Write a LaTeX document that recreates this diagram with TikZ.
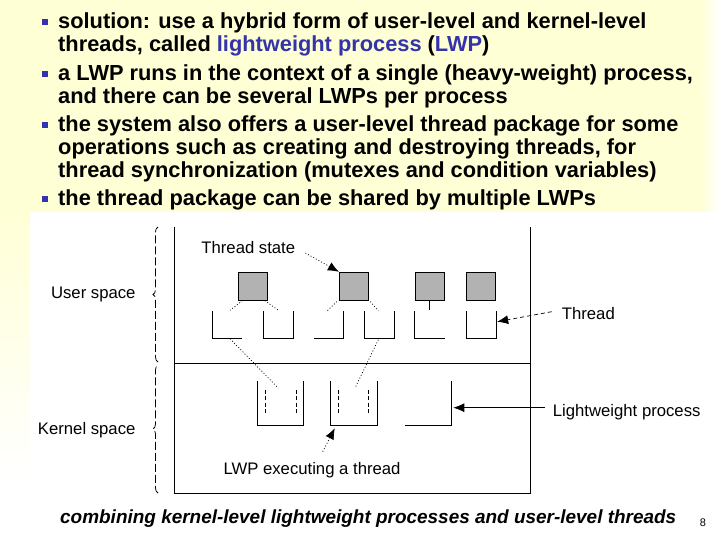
\documentclass[tikz,border=0pt]{standalone}
\usepackage{fontspec}
\setmainfont{Liberation Sans}
\usetikzlibrary{arrows.meta,calc,decorations.pathreplacing}
\definecolor{bgyel}{RGB}{255,255,214}
\definecolor{lwpblue}{RGB}{51,51,170}
\definecolor{thgray}{RGB}{178,178,178}
\begin{document}
\begin{tikzpicture}[x=1pt,y=-1pt,
  ln/.style={line width=0.8pt},
  tsq/.style={draw, line width=0.8pt, fill=thgray, minimum width=29pt, minimum height=28pt, inner sep=0pt},
  cupbox/.style={minimum width=29.5pt, minimum height=27pt, inner sep=0pt},
  lwpbox/.style={minimum width=46pt, minimum height=44pt, inner sep=0pt},
  dlab/.style={font=\fontsize{16.7}{18}\selectfont, inner sep=0pt},
  toptext/.style={font=\fontsize{21.8}{23}\selectfont\bfseries, anchor=base west, inner sep=0pt},
  bul/.style={fill=lwpblue, minimum width=5.5pt, minimum height=6.5pt, inner sep=0pt},
  dots/.style={line width=0.7pt, dash pattern=on 1pt off 2pt},
  innerdash/.style={line width=0.7pt, dash pattern=on 4pt off 2.5pt},
  arr/.style={-{Latex[length=11pt,width=9pt]}},
  bracedash/.style={line width=0.75pt, dash pattern=on 8pt off 3pt, decorate, decoration={brace, amplitude=5pt}},
]
% background
\fill[white] (0,0) rectangle (720,540);
\fill[bgyel] (0,0) rectangle (700,212);
\shade[left color=bgyel, right color=white] (700,0) rectangle (720,212);
\shade[top color=bgyel, bottom color=white] (0,212) rectangle (30,480);
\useasboundingbox (0,0) rectangle (720,540);

% top text
\node[bul] (b1) at (45,22) {};
\node[toptext] (t1) at (58,29) {solution: use a hybrid form of user-level and kernel-level};
\node[toptext] (t2) at (58,52) {threads, called {\color{lwpblue}lightweight process} ({\color{lwpblue}LWP})};
\node[bul] (b2) at (45,74) {};
\node[toptext] (t3) at (58,81) {a LWP runs in the context of a single (heavy-weight) process,};
\node[toptext] (t4) at (58,104) {and there can be several LWPs per process};
\node[bul] (b3) at (45,125) {};
\node[toptext] (t5) at (58,132) {the system also offers a user-level thread package for some};
\node[toptext] (t6) at (58,155) {operations such as creating and destroying threads, for};
\node[toptext] (t7) at (58,178) {thread synchronization (mutexes and condition variables)};
\node[bul] (b4) at (45,199) {};
\node[toptext] (t8) at (58,206) {the thread package can be shared by multiple LWPs};

% frame
\coordinate (ftl) at (174.3,226.7);
\coordinate (fbl) at (174.3,493);
\coordinate (fbr) at (530,493);
\coordinate (ftr) at (530,226.7);
\coordinate (fml) at (174.3,363.3);
\coordinate (fmr) at (530,363.3);
\draw[ln] (ftl) -- (fbl) -- (fbr) -- (ftr);
\draw[ln] (fml) -- (fmr);

% braces
\coordinate (bu1) at (158,362);
\coordinate (bu2) at (158,227);
\coordinate (bk1) at (158,493);
\coordinate (bk2) at (158,365);
\draw[bracedash] (bu1) -- (bu2);
\draw[bracedash] (bk1) -- (bk2);
\node[dlab] (us) at (93.3,294) {User space};
\node[dlab] (ks) at (86.7,430) {Kernel space};

% thread states
\node[tsq] (s1) at (252.9,286.2) {};
\node[tsq] (s2) at (353.8,286.2) {};
\node[tsq] (s3) at (429.7,286.2) {};
\node[tsq] (s4) at (481,286.2) {};

% threads
\node[cupbox] (c1) at (227.2,325) {};
\node[cupbox] (c2) at (278.3,325) {};
\node[cupbox] (c3) at (328.7,325) {};
\node[cupbox] (c4) at (379.3,325) {};
\node[cupbox] (c5) at (429.7,325) {};
\node[cupbox] (c6) at (481,325) {};
\draw[ln] (c1.north west) |- (c1.south east);
\draw[ln] (c2.north west) |- (c2.south east) -- (c2.north east);
\draw[ln] (c3.south west) -| (c3.north east);
\draw[ln] (c4.north west) |- (c4.south east) -- (c4.north east);
\draw[ln] (c5.north west) |- (c5.south east);
\draw[ln] (c6.north west) |- (c6.south east) -- (c6.north east);

% state-thread links
\draw[dots] ($(s1.south west)+(4.4,0)$) -- ($(c1.north east)+(-12,-1)$);
\draw[dots] ($(s1.south east)+(-3,0)$) -- ($(c2.north)+(0,-1)$);
\draw[dots] ($(s2.south west)+(-2,1)$) -- ($(c3.north)+(-1.5,-0.5)$);
\draw[dots] ($(s2.south east)+(1.5,1)$) -- ($(c4.north)+(-1,-0.5)$);
\draw[ln] (s3.south) -- ($(c5.north)+(0,-1.5)$);

% LWPs
\node[lwpbox] (L1) at (280.5,403) {};
\node[lwpbox] (L2) at (354,403) {};
\node[lwpbox] (L3) at (428.5,403) {};
\draw[ln] (L1.north west) |- (L1.south east) -- (L1.north east);
\draw[ln] (L2.north west) |- (L2.south east) -- (L2.north east);
\draw[ln] (L3.south west) -| (L3.north east);
\draw[innerdash] ($(L1.north west)+(8.3,9)$) -- ($(L1.south west)+(8.3,-10)$);
\draw[innerdash] ($(L1.north east)+(-7.5,9)$) -- ($(L1.south east)+(-7.5,-10)$);
\draw[innerdash] ($(L2.north west)+(8,9)$) -- ($(L2.south west)+(8,-10)$);
\draw[innerdash] ($(L2.north east)+(-8.5,9)$) -- ($(L2.south east)+(-8.5,-10)$);

% thread-LWP links
\draw[dots] ($(c1.south)+(2.8,0)$) -- ($(L1.north)+(-2.2,7.3)$);
\draw[dots] ($(c4.south)+(-1,1)$) -- ($(L2.north)+(1,7.3)$);

% labels and arrows
\node[dlab] (tst) at (248.3,248) {Thread state};
\node[dlab, anchor=west] (thr) at (561.7,314) {Thread};
\node[dlab, anchor=west] (lwpl) at (552.7,411.7) {Lightweight process};
\node[dlab, anchor=west] (lwpe) at (223.3,470) {LWP executing a thread};
\draw[dots, arr] ($(tst.east)+(10,5)$) -- (s2.north west);
\draw[line width=0.7pt, dash pattern=on 4pt off 3pt, arr] ($(thr.west)+(-10,-2.3)$) -- ($(c6.east)+(1.2,-3.3)$);
\draw[ln, arr] ($(lwpl.west)+(-7.7,-4)$) -- ($(L3.east)+(1.6,4.7)$);
\draw[dots, arr] ($(lwpe.west)+(99.4,-18.3)$) -- ($(L2.south west)+(4,3)$);

% caption
\node[font=\fontsize{18.95}{21}\selectfont\bfseries\itshape, anchor=west, inner sep=0pt] (cap) at (60,519) {combining kernel-level lightweight processes and user-level threads};
\node[font=\fontsize{11}{12}\selectfont, inner sep=0pt] (pg) at (703,523) {8};
\end{tikzpicture}
\end{document}
